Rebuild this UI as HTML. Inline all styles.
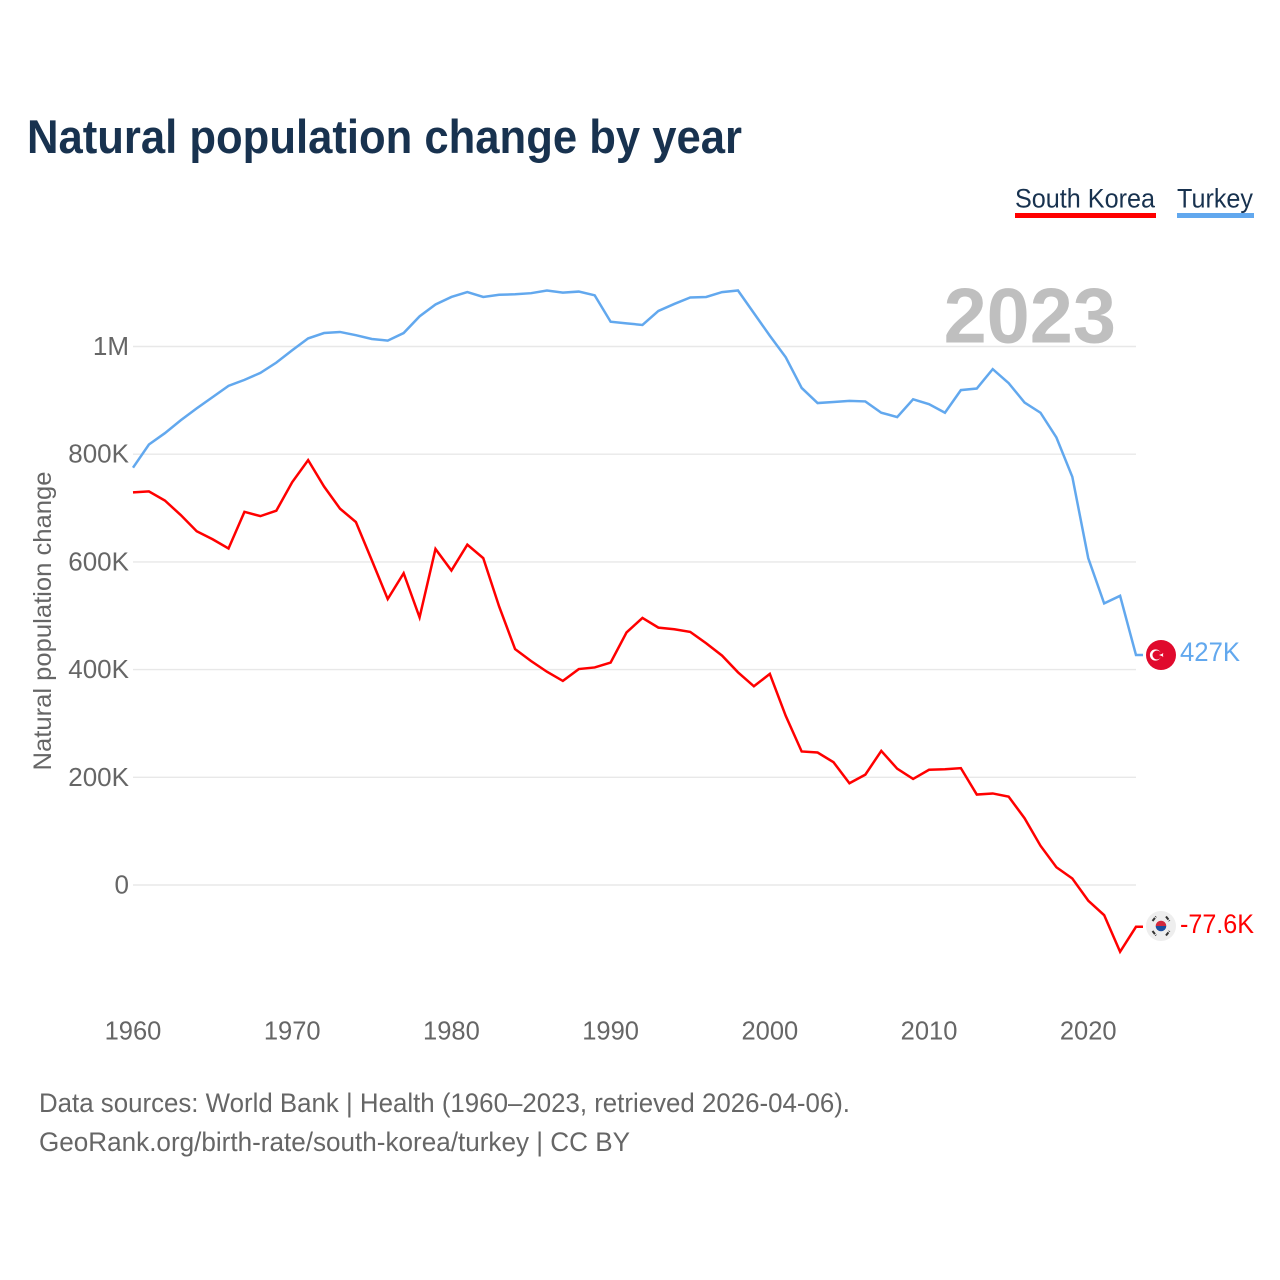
<!DOCTYPE html>
<html lang="en">
<head>
<meta charset="utf-8">
<title>Natural population change by year</title>
<style>
html,body{margin:0;padding:0;background:#fff;}
svg{display:block;font-family:"Liberation Sans",sans-serif;}
</style>
</head>
<body>
<svg id="chart" xmlns="http://www.w3.org/2000/svg" width="1280" height="1280" viewBox="0 0 1280 1280">
  <rect x="0" y="0" width="1280" height="1280" fill="#fff"/>
  <text x="27" y="153" font-size="47" font-weight="700" fill="#18324f" textLength="715" lengthAdjust="spacingAndGlyphs">Natural population change by year</text>

  <g>
    <text x="1015" y="207.5" font-size="27" fill="#18324f" textLength="140" lengthAdjust="spacingAndGlyphs">South Korea</text>
    <rect x="1015" y="213" width="141" height="5" fill="#ff0000"/>
  </g>
  <g>
    <text x="1177" y="207.5" font-size="27" fill="#18324f" textLength="76" lengthAdjust="spacingAndGlyphs">Turkey</text>
    <rect x="1177" y="213" width="77" height="5" fill="#62a8ee"/>
  </g>

  <g id="grid"></g>
  <g id="y-ticks"></g>
  <g id="x-ticks"></g>

  <text transform="translate(51 621) rotate(-90)" text-anchor="middle" font-size="25" fill="#666" textLength="299" lengthAdjust="spacingAndGlyphs">Natural population change</text>

  <text x="1116" y="342.5" text-anchor="end" font-size="77.5" font-weight="700" fill="#bfbfbf">2023</text>

  <g id="series"></g>

  <g id="flag-tr">
    <circle cx="1161" cy="655" r="15" fill="#e00a2d"/>
    <circle cx="1155.5" cy="655" r="5.6" fill="#fff"/>
    <circle cx="1157" cy="655" r="4.5" fill="#e00a2d"/>
    <polygon points="1159,655 1163.4,653.4 1162.1,657.4 1162.1,652.6 1163.4,656.6" fill="#fff"/>
  </g>
  <g id="flag-kr">
    <circle cx="1161" cy="926" r="15" fill="#eeeeee"/>
    <path d="M1155.7 926a5.3 5.3 0 0 1 10.6 0z" fill="#d3293d"/>
    <path d="M1155.7 926a5.3 5.3 0 0 0 10.6 0z" fill="#1d4f9e"/>
    <g stroke="#333" stroke-width="2" stroke-dasharray="4 1">
      <line x1="1152.5" y1="921" x2="1156" y2="916.5"/>
      <line x1="1166" y1="916.5" x2="1169.5" y2="921"/>
      <line x1="1152.5" y1="931" x2="1156" y2="935.5"/>
      <line x1="1166" y1="935.5" x2="1169.5" y2="931"/>
    </g>
  </g>

  <text id="label-tr" x="1180" y="661" font-size="27" fill="#62a8ee" textLength="60" lengthAdjust="spacingAndGlyphs">427K</text>
  <text id="label-kr" x="1180" y="933" font-size="27" fill="#ff0000" textLength="74" lengthAdjust="spacingAndGlyphs">-77.6K</text>

  <text x="39" y="1112" font-size="27" fill="#666" textLength="811" lengthAdjust="spacingAndGlyphs">Data sources: World Bank | Health (1960–2023, retrieved 2026-04-06).</text>
  <text x="39" y="1151" font-size="27" fill="#666" textLength="591" lengthAdjust="spacingAndGlyphs">GeoRank.org/birth-rate/south-korea/turkey | CC BY</text>
</svg>
<script>
const years = [];
const yearStart = 1960;
const yearEnd = 2023;
for (let y = yearStart; y <= yearEnd; y++) years.push(y);

// values in thousands
const turkeyValues = [775,818,839,863,885,906,927,938,951,970,993,1015,1025,1027,1021,1014,1011,1025,1056,1078,1092,1101,1092,1096,1097,1099,1104,1100,1102,1095,1046,1043,1040,1066,1079,1091,1092,1101,1104,1062,1020,980,923,895,897,899,898,877,869,902,893,877,919,922,958,932,896,877,831,758,607,523,537,427];
const southKoreaValues = [729,731,714,687,657,642,625,693,685,695,748,789,740,699,674,603,531,579,497,624,584,632,607,517,438,416,396,379,401,404,413,469,496,478,475,470,449,426,395,369,392,314,248,246,228,189,205,249,216,197,214,215,217,168,170,164,124,73,33,12,-29,-56,-124,-77.6];
const yTickValues = [0,200,400,600,800,1000];
const yTickLabels = ["0","200K","400K","600K","800K","1M"];
const xTickValues = [1960,1970,1980,1990,2000,2010,2020];

const svgNS = "http://www.w3.org/2000/svg";
const plotLeft = 133, plotRight = 1136, zeroY = 885, oneMillionY = 346.5;
function xScale(year) { return plotLeft + (year - yearStart) / (yearEnd - yearStart) * (plotRight - plotLeft); }
function yScale(value) { return zeroY - value / 1000 * (zeroY - oneMillionY); }

const gridGroup = document.getElementById("grid");
const yTickGroup = document.getElementById("y-ticks");
const xTickGroup = document.getElementById("x-ticks");
const seriesGroup = document.getElementById("series");

yTickValues.forEach(function (v, i) {
  const line = document.createElementNS(svgNS, "line");
  
  
  line.setAttribute("x1", plotLeft);
  line.setAttribute("x2", plotRight);
  line.setAttribute("y1", yScale(v));
  line.setAttribute("y2", yScale(v));
  line.setAttribute("stroke", "#e8e8e8");
  line.setAttribute("stroke-width", "1.4");
  gridGroup.appendChild(line);

  const label = document.createElementNS(svgNS, "text");
  
  
  label.setAttribute("x", 129);
  label.setAttribute("y", yScale(v) + 8.5);
  label.setAttribute("text-anchor", "end");
  label.setAttribute("font-size", "26");
  label.setAttribute("fill", "#666");
  label.textContent = yTickLabels[i];
  yTickGroup.appendChild(label);
});

xTickValues.forEach(function (year) {
  const label = document.createElementNS(svgNS, "text");
  
  
  label.setAttribute("x", xScale(year));
  label.setAttribute("y", 1039.5);
  label.setAttribute("text-anchor", "middle");
  label.setAttribute("font-size", "25.5");
  label.setAttribute("fill", "#666");
  label.textContent = year;
  xTickGroup.appendChild(label);
});

function drawSeries(values, color, name) {
  const pts = years.map(function (year, i) { return xScale(year).toFixed(2) + "," + yScale(values[i]).toFixed(2); });
  pts.push((plotRight + 7) + "," + yScale(values[values.length - 1]).toFixed(2));
  const line = document.createElementNS(svgNS, "polyline");
  
  
  line.setAttribute("points", pts.join(" "));
  line.setAttribute("fill", "none");
  line.setAttribute("stroke", color);
  line.setAttribute("stroke-width", "2.5");
  line.setAttribute("stroke-linejoin", "miter");
  seriesGroup.appendChild(line);
}
drawSeries(turkeyValues, "#62a8ee", "turkey-line");
drawSeries(southKoreaValues, "#ff0000", "south-korea-line");
</script>
</body>
</html>
